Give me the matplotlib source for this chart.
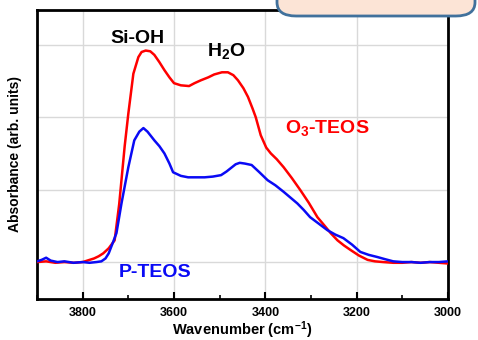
import matplotlib
matplotlib.use("Agg")
import matplotlib.pyplot as plt
from matplotlib.patches import FancyBboxPatch

plt.rcParams['font.family'] = ['Liberation Sans', 'DejaVu Sans']
plt.rcParams['font.weight'] = 'bold'
plt.rcParams['mathtext.fontset'] = 'custom'
plt.rcParams['mathtext.rm'] = 'Liberation Sans:bold'
plt.rcParams['mathtext.bf'] = 'Liberation Sans:bold'
plt.rcParams['mathtext.default'] = 'bf'

# O3-TEOS (red) spectrum
red_wn = [3900, 3880, 3860, 3840, 3820, 3800, 3790, 3775, 3765, 3755, 3743, 3730,
          3720, 3708, 3700, 3689, 3678, 3671, 3662, 3652, 3643, 3632, 3621, 3610,
          3600, 3585, 3567, 3555, 3541, 3525, 3512, 3495, 3482, 3470, 3460, 3448,
          3438, 3428, 3421, 3410, 3398, 3388, 3375, 3360, 3342, 3323, 3305, 3286,
          3270, 3257, 3242, 3228, 3213, 3195, 3176, 3160, 3142, 3120, 3100, 3080,
          3060, 3040, 3020, 3000]
red_ab = [0.00, 0.01, -0.01, 0.00, -0.01, 0.00, 0.02, 0.05, 0.08, 0.12, 0.19, 0.30,
          0.8, 1.60, 2.05, 2.60, 2.83, 2.90, 2.92, 2.91, 2.86, 2.76, 2.65, 2.55,
          2.47, 2.44, 2.43, 2.47, 2.51, 2.55, 2.59, 2.62, 2.62, 2.58, 2.51, 2.40,
          2.28, 2.12, 2.00, 1.75, 1.58, 1.50, 1.42, 1.31, 1.16, 0.99, 0.82, 0.62,
          0.50, 0.40, 0.30, 0.23, 0.165, 0.09, 0.03, 0.01, 0.00, -0.01, -0.01, 0.00,
          -0.01, 0.00, -0.01, -0.02]

# P-TEOS (blue) spectrum
blue_wn = [3900, 3890, 3880, 3870, 3855, 3840, 3820, 3800, 3785, 3770, 3759, 3750,
           3743, 3735, 3726, 3715, 3700, 3687, 3676, 3667, 3658, 3643, 3632, 3621,
           3610, 3602, 3585, 3569, 3550, 3533, 3515, 3497, 3485, 3475, 3465, 3456,
           3445, 3430, 3413, 3395, 3378, 3360, 3345, 3330, 3316, 3302, 3283, 3264,
           3247, 3229, 3210, 3192, 3174, 3155, 3138, 3120, 3100, 3080, 3060, 3040,
           3020, 3000]
blue_ab = [0.01, 0.03, 0.06, 0.02, 0.00, 0.01, -0.01, 0.00, -0.01, 0.00, 0.01, 0.05,
           0.12, 0.25, 0.40, 0.81, 1.31, 1.68, 1.80, 1.85, 1.80, 1.68, 1.60, 1.50,
           1.36, 1.24, 1.19, 1.17, 1.17, 1.17, 1.18, 1.20, 1.25, 1.30, 1.35, 1.37,
           1.36, 1.34, 1.24, 1.13, 1.06, 0.97, 0.89, 0.81, 0.72, 0.62, 0.53, 0.44,
           0.38, 0.33, 0.24, 0.14, 0.10, 0.07, 0.04, 0.01, 0.00, 0.00, -0.01, 0.00,
           0.00, 0.01]

xticks = [3800, 3600, 3400, 3200, 3000]
xminor = [3900, 3700, 3500, 3300, 3100]
ygrid = [0, 1, 2, 3]

fig = plt.figure(figsize=(4.78, 3.40), dpi=100)
ax = fig.add_axes([37/478, 1 - 299/340, 411/478, 289/340])

ax.plot(red_wn, red_ab, color='#FF0000', lw=1.8, zorder=3)
ax.plot(blue_wn, blue_ab, color='#0A0AF5', lw=1.8, zorder=4)

ax.set_xlim(3900, 3000)
ax.set_ylim(-0.51, 3.48)
ax.set_xticks(xticks)
ax.set_xticks(xminor, minor=True)
ax.set_yticks(ygrid)
ax.set_yticklabels([])
ax.tick_params(axis='y', length=0)
ax.tick_params(axis='x', which='major', direction='in', length=5, width=1.5,
               labelsize=9, pad=6)
ax.tick_params(axis='x', which='minor', direction='in', length=3, width=1.2)
for lab in ax.get_xticklabels():
    lab.set_fontweight('bold')
ax.grid(True, which='major', color='#D9D9D9', lw=1.0, zorder=0)
for s in ax.spines.values():
    s.set_linewidth(2.0)
    s.set_color('black')

ax.set_xlabel('Wavenumber (cm$^{-1}$)', fontsize=10.5, fontweight='bold', labelpad=0)
ax.set_ylabel('Absorbance (arb. units)', fontsize=10, fontweight='bold', labelpad=7)

ax.text(3681, 3.09, 'Si-OH', fontsize=14, fontweight='bold', ha='center', va='center')
ax.text(3486, 2.92, 'H$_{2}$O', fontsize=14, fontweight='bold', ha='center', va='center')
ax.text(3357, 1.85, 'O$_{3}$-TEOS', fontsize=14, fontweight='bold', color='#FF0000',
        ha='left', va='center')
ax.text(3642, -0.14, 'P-TEOS', fontsize=14, fontweight='bold', color='#0A0AF5',
        ha='center', va='center')

# callout box (cut at top of figure)
box = FancyBboxPatch((277/478, 1 - 16/340), 198/478, 0.2,
                     boxstyle='round,pad=0,rounding_size=0.04',
                     transform=fig.transFigure, facecolor='#FCE4D6',
                     edgecolor='#41719C', lw=2.0, clip_on=False)
fig.patches.append(box)

fig.savefig('out.png', dpi=100)
